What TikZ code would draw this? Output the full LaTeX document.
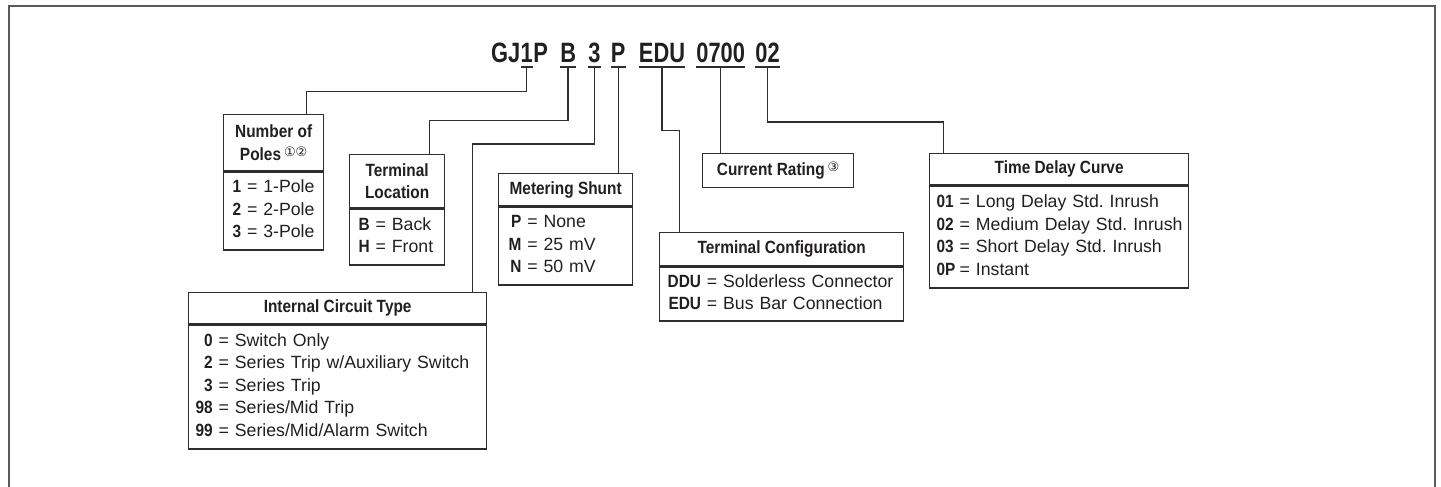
\documentclass[tikz,border=0pt]{standalone}
\usepackage{fontspec}
\setmainfont{Liberation Sans}[BoldFeatures={FakeStretch=0.87}]
\newfontfamily\codefont{Liberation Sans}[FakeStretch=0.78]
\newfontfamily\circfont{DejaVu Sans}
\usetikzlibrary{positioning}
\definecolor{linec}{HTML}{2E2E2E}
\definecolor{framec}{HTML}{5A5A5A}
\definecolor{inkc}{HTML}{231F20}
\newcommand{\txtsize}{\fontsize{17.7}{22.5}\selectfont\frenchspacing}
\newcommand{\circnum}[1]{\raisebox{3.5pt}{\circfont\fontsize{13}{13}\selectfont\mdseries #1}}

\begin{document}
\begin{tikzpicture}[x=1pt,y=-1pt,
  every node/.style={text=inkc},
  code/.style={font=\codefont\fontsize{28}{30}\selectfont\bfseries,inner sep=0pt},
  uline/.style={draw=linec,line width=2pt},
  wire/.style={draw=linec,line width=1.3pt},
  hdr/.style={draw=linec,line width=1.3pt,font=\txtsize\bfseries,align=center,inner sep=0pt,anchor=north west},
  body/.style={draw=linec,line width=1.3pt,font=\txtsize,align=left,inner xsep=10pt,inner ysep=0pt,below=0pt of #1}]
\useasboundingbox (0,0) rectangle (1441,487);
% outer frame, open at the bottom
\draw[framec,line width=2pt] (8.5,487) -- (8.5,6.5) -- (1435,6.5) -- (1435,487);

% catalog number
\node[code,anchor=base west](gj) at (491,63) {GJ};
\node[code](one)[right=0pt of gj]{1};
\node[code](pp)[right=0pt of one]{P};
\node[code](b)[right=12pt of pp]{B};
\node[code](three)[right=12pt of b]{3};
\node[code](p)[right=10pt of three]{P};
\node[code](edu)[right=13pt of p]{EDU};
\node[code](oh)[right=11pt of edu]{0700};
\node[code](ot)[right=10pt of oh]{02};
\foreach \n in {one,b,three,p,edu,oh,ot}
  \draw[uline] ([yshift=-3.5pt]\n.south west) -- ([yshift=-3.5pt]\n.south east);

% number of poles
\node[hdr,minimum width=100pt,minimum height=56pt](polesh) at (223,114) {Number of\\Poles\,\circnum{①②}};
\node[body=polesh,text width=82pt,inner xsep=9pt,minimum height=78pt](polesb){\begin{tabular}{@{}r@{ = }l@{}}
\textbf{1} & 1-Pole\\ \textbf{2} & 2-Pole\\ \textbf{3} & 3-Pole\end{tabular}};

% terminal location
\node[hdr,minimum width=95pt,minimum height=53pt](loch) at (349,154) {Terminal\\Location};
\node[body=loch,text width=77pt,inner xsep=9pt,minimum height=56pt](locb){\begin{tabular}{@{}r@{ = }l@{}}
\textbf{B} & Back\\ \textbf{H} & Front\end{tabular}};

% metering shunt
\node[hdr,minimum width=134pt,minimum height=32pt](shunth) at (498,173) {Metering Shunt};
\node[body=shunth,text width=114pt,minimum height=78pt](shuntb){\begin{tabular}{@{}r@{ = }l@{}}
\textbf{P} & None\\ \textbf{M} & 25 mV\\ \textbf{N} & 50 mV\end{tabular}};

% internal circuit type
\node[hdr,minimum width=298pt,minimum height=31pt](icth) at (188,292) {Internal Circuit Type};
\node[body=icth,text width=284pt,inner xsep=7pt,minimum height=124pt](ictb){\begin{tabular}{@{}r@{ = }l@{}}
\textbf{0} & Switch Only\\ \textbf{2} & Series Trip w/Auxiliary Switch\\ \textbf{3} & Series Trip\\
\textbf{98} & Series/Mid Trip\\ \textbf{99} & Series/Mid/Alarm Switch\end{tabular}};

% terminal configuration
\node[hdr,minimum width=244pt,minimum height=33pt](tcfgh) at (659,232) {Terminal Configuration};
\node[body=tcfgh,text width=228pt,inner xsep=8pt,minimum height=54pt](tcfgb){\begin{tabular}{@{}r@{ = }l@{}}
\textbf{DDU} & Solderless Connector\\ \textbf{EDU} & Bus Bar Connection\end{tabular}};

% current rating
\node[hdr,minimum width=151pt,minimum height=34pt](rating) at (702,153) {Current Rating\,\circnum{③}};

% time delay curve
\node[hdr,minimum width=259pt,minimum height=31pt](tdch) at (929,153) {Time Delay Curve};
\node[body=tdch,text width=245pt,inner xsep=7pt,minimum height=102pt](tdcb){\begin{tabular}{@{}l@{ = }l@{}}
\textbf{01} & Long Delay Std. Inrush\\ \textbf{02} & Medium Delay Std. Inrush\\
\textbf{03} & Short Delay Std. Inrush\\ \textbf{0P}\hspace{-4pt} & Instant\end{tabular}};

% leaders
\draw[wire] ([yshift=-3.5pt]one.south) -- ++(0,25) -| ([xshift=33pt]polesh.north);
\draw[wire] ([yshift=-3.5pt]b.south) -- ++(0,54) -| ([xshift=32.5pt]loch.north);
\draw[wire] ([yshift=-3.5pt]three.south) -- ++(0,77) -| ([xshift=135pt]icth.north);
\draw[wire] ([yshift=-3.5pt]p.south) -- (p.south |- shunth.north);
\draw[wire] ([yshift=-3.5pt]edu.south) -- ++(0,64) -| ([xshift=-102pt]tcfgh.north);
\draw[wire] ([yshift=-3.5pt]oh.south) -- (oh.south |- rating.north);
\draw[wire] ([yshift=-3.5pt]ot.south) -- ++(0,55) -| ([xshift=-115.5pt]tdch.north);
\end{tikzpicture}
\end{document}
